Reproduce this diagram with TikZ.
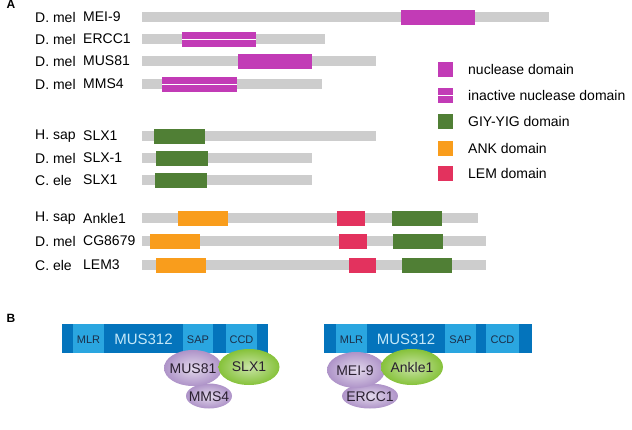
\documentclass[tikz,border=0pt]{standalone}
\usepackage{fontspec}
\setmainfont{Liberation Sans}
\definecolor{nucl}{HTML}{C23BB6}
\definecolor{gyy}{HTML}{507F35}
\definecolor{ank}{HTML}{F99D1C}
\definecolor{lem}{HTML}{E3325E}
\definecolor{barg}{HTML}{CDCDCD}
\definecolor{dblue}{HTML}{0474BC}
\definecolor{lblue}{HTML}{2AA6E0}
\definecolor{navy}{HTML}{1B2F4A}
\definecolor{paleblue}{HTML}{C4E8F8}
\definecolor{lilac}{HTML}{AE93C8}
\definecolor{leaf}{HTML}{86C23A}
\definecolor{ink}{HTML}{2A2030}
% domain box: colour, from, to, row
\newcommand{\domain}[4]{\fill[#1] (#2,#4-7.5) rectangle (#3,#4+7.5);}
\newcommand{\inactive}[3]{\domain{nucl}{#1}{#2}{#3}\draw[white,line width=1pt] (#1,#3) -- (#2,#3);}
\begin{document}
\begin{tikzpicture}[x=1pt,y=-1pt,
  lab/.style={anchor=west,inner sep=0pt,font=\fontsize{14}{16}\selectfont},
  panel/.style={inner sep=0pt,font=\bfseries\fontsize{12}{14}\selectfont},
  seg/.style={inner sep=0pt,font=\fontsize{11}{13}\selectfont,text=navy},
  big/.style={inner sep=0pt,font=\fontsize{15}{17}\selectfont,text=paleblue},
  sub/.style={inner sep=0pt,font=\fontsize{14}{16}\selectfont,text=ink},
  purp/.style={inner color=lilac!35!white,outer color=lilac},
  lime/.style={inner color=leaf!45!white,outer color=leaf}]
\useasboundingbox (0,0) rectangle (632,429);

% A
\node[panel] (labA) at (11,4) {A};
\foreach \sp/\gn/\y/\e [count=\i] in {D. mel/MEI-9/17/549, D. mel/ERCC1/39/325,
    D. mel/MUS81/61/376, D. mel/MMS4/84/322, H. sap/SLX1/136/376,
    D. mel/SLX-1/158/312, C. ele/SLX1/180/312, H. sap/Ankle1/218/478,
    D. mel/CG8679/241/486, C. ele/LEM3/265/486}{
  \fill[barg] (142,\y-5) rectangle (\e,\y+5);
  \node[lab] (sp\i) at (35,\y) {\sp};
  \node[lab] (gn\i) at (83,\y) {\gn};
}
\domain{nucl}{401}{475}{17}
\inactive{182}{256}{39}
\domain{nucl}{238}{312}{61}
\inactive{162}{237}{84}
\domain{gyy}{154}{205}{136}
\domain{gyy}{156}{208}{158}
\domain{gyy}{155}{207}{180}
\domain{ank}{178}{228}{218}
\domain{lem}{337}{365}{218}
\domain{gyy}{392}{442}{218}
\domain{ank}{150}{200}{241}
\domain{lem}{339}{367}{241}
\domain{gyy}{393}{443}{241}
\domain{ank}{156}{206}{265}
\domain{lem}{349}{376}{265}
\domain{gyy}{402}{452}{265}

% legend
\foreach \c/\t/\y [count=\i] in {nucl/nuclease domain/69.5, nucl/inactive nuclease domain/95,
    gyy/GIY-YIG domain/121.5, ank/ANK domain/148, lem/LEM domain/173.5}{
  \fill[\c] (438,\y-7.5) rectangle (453,\y+7.5);
  \node[lab] (key\i) at (468,\y) {\t};
}
\draw[white,line width=1pt] (438,95) -- (453,95);

% B
\node[panel] (labB) at (11,318) {B};
\fill[dblue] (62,324) rectangle (268,353);
\foreach \a/\b in {73/104, 183/213, 226/257}
  \fill[lblue] (\a,324) rectangle (\b,353);
\node[seg] (mlrL) at (88.5,340) {MLR};
\node[big] (musL) at (143.5,339) {MUS312};
\node[seg] (sapL) at (198,340) {SAP};
\node[seg] (ccdL) at (241.5,340) {CCD};
\shade[purp] (209,396) ellipse [x radius=23pt,y radius=12.5pt];
\shade[purp] (193,368) ellipse [x radius=29pt,y radius=18pt];
\shade[lime] (249,367) ellipse [x radius=30.5pt,y radius=18pt];
\node[sub] (mms4) at (209,397) {MMS4};
\node[sub] (mus81) at (193,369) {MUS81};
\node[sub] (slx1) at (249,367) {SLX1};

\fill[dblue] (324,324) rectangle (532,353);
\foreach \a/\b in {336/367, 445/476, 486/519}
  \fill[lblue] (\a,324) rectangle (\b,353);
\node[seg] (mlrR) at (351.5,340) {MLR};
\node[big] (musR) at (406,339) {MUS312};
\node[seg] (sapR) at (460.5,340) {SAP};
\node[seg] (ccdR) at (502.5,340) {CCD};
\shade[purp] (370,396) ellipse [x radius=28pt,y radius=12.5pt];
\shade[purp] (356,370) ellipse [x radius=29pt,y radius=18pt];
\shade[lime] (412,367) ellipse [x radius=31pt,y radius=18pt];
\node[sub] (ercc1) at (370,397) {ERCC1};
\node[sub] (mei9) at (355,371) {MEI-9};
\node[sub] (ankle1) at (412,367) {Ankle1};
\end{tikzpicture}
\end{document}
